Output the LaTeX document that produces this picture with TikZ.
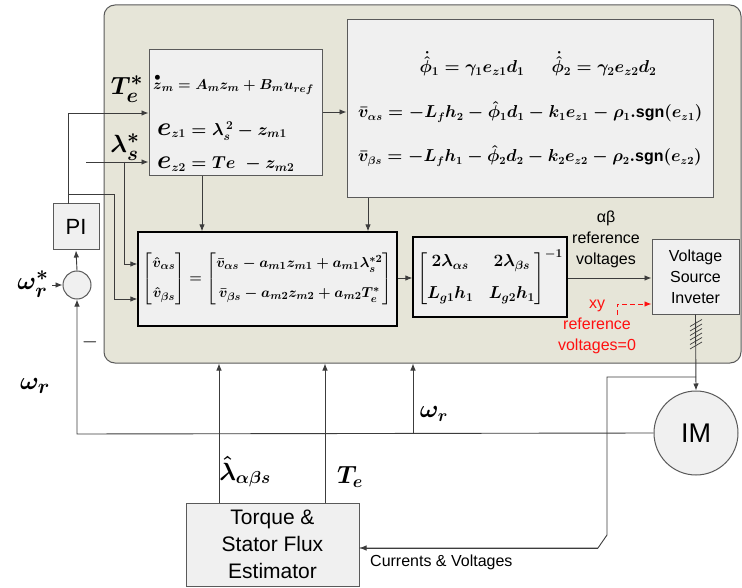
\documentclass[tikz,border=0pt]{standalone}
\usepackage{amsmath}
\usepackage{fontspec}
\setmainfont{Liberation Sans}
\usetikzlibrary{arrows.meta,calc}
\definecolor{panel}{HTML}{E6E5D8}
\definecolor{boxfill}{HTML}{F0F0F0}
\definecolor{linec}{HTML}{3C3C3C}
\definecolor{bord}{HTML}{5A5A5A}
\definecolor{redc}{HTML}{FF1010}
\tikzset{
  arr/.style={draw=linec, line width=0.9pt, -{Latex[length=7pt,width=5.5pt]}},
  wire/.style={draw=linec, line width=0.9pt},
  gbox/.style={draw=bord, line width=1pt, fill=boxfill, inner sep=0pt},
  kbox/.style={draw=black, line width=1.3pt, fill=boxfill, inner sep=0pt},
  eqs/.style={inner sep=0pt, font=\fontsize{15}{18}\selectfont\boldmath},
  biglab/.style={inner sep=0pt, font=\fontsize{28}{30}\selectfont\boldmath},
  sans/.style={inner sep=0pt, align=center, font=\fontsize{16}{21}\selectfont},
}
\begin{document}
\begin{tikzpicture}[x=1pt,y=-1pt]
\useasboundingbox (0,0) rectangle (742,588);
\fill[white] (0,0) rectangle (742,588);

% panel
\node[draw=bord, line width=1pt, fill=panel, rounded corners=11pt,
      minimum width=637pt, minimum height=358pt, inner sep=0pt] (ctrl) at (422.5,184) {};

% boxes
\node[gbox, minimum width=173pt, minimum height=126pt] (box1) at (235.5,113) {};
\node[gbox, minimum width=366pt, minimum height=178pt] (box2) at (530,109) {};
\node[kbox, minimum width=259pt, minimum height=94pt] (box3) at (267.5,279) {};
\node[kbox, minimum width=154pt, minimum height=80pt] (box4) at (490,277) {};
\node[gbox, minimum width=87pt, minimum height=74pt, sans] (vsi) at (695.5,277) {Voltage\\Source\\Inveter};
\node[gbox, minimum width=46pt, minimum height=46pt, font=\fontsize{22}{22}\selectfont] (pi) at (76,227) {PI};
\node[circle, draw=bord, line width=1pt, fill=boxfill, minimum size=28pt, inner sep=0pt] (sum) at (77,285) {};
\node[circle, draw=bord, line width=1pt, fill=boxfill, minimum size=84pt, inner sep=0pt, font=\fontsize{27}{27}\selectfont] (im) at (696,433) {IM};
\node[gbox, minimum width=173pt, minimum height=83pt, align=center, font=\fontsize{21}{27}\selectfont] (est) at (272.5,544.5) {Torque \&\\Stator Flux\\Estimator};

% equations box1
\node[eqs, anchor=west, font=\fontsize{15}{18}\selectfont\boldmath] (eq1) at (153,84) {$\overset{\bullet}{z}_{m} = A_{m} z_{m} + B_{m} u_{ref}$};
\node[eqs, anchor=west, font=\fontsize{17}{18}\selectfont\boldmath] (eq2) at (157,131) {$\scalebox{1.5}{$e$}_{z1} = \lambda_s^{\,2} - z_{m1}$};
\node[eqs, anchor=west, font=\fontsize{17}{18}\selectfont\boldmath] (eq3) at (157,164) {$\scalebox{1.5}{$e$}_{z2} = Te\; - z_{m2}$};

% equations box2
\node[eqs, font=\fontsize{18}{20}\selectfont\boldmath] (eq4) at (472,64) {$\dot{\hat{\phi}}_1 = \gamma_1 e_{z1} d_1$};
\node[eqs, font=\fontsize{18}{20}\selectfont\boldmath] (eq5) at (604,64) {$\dot{\hat{\phi}}_2 = \gamma_2 e_{z2} d_2$};
\node[eqs, anchor=west, font=\fontsize{16}{20}\selectfont\boldmath] (eq6) at (358,112) {$\bar{v}_{\alpha s} = -L_f h_2 - \hat{\phi}_1 d_1 - k_1 e_{z1} - \rho_1 . \mathrm{sgn}(e_{z1})$};
\node[eqs, anchor=west, font=\fontsize{16}{20}\selectfont\boldmath] (eq7) at (358,156) {$\bar{v}_{\beta s} = -L_f h_1 - \hat{\phi}_2 d_2 - k_2 e_{z2} - \rho_2 . \mathrm{sgn}(e_{z2})$};

% matrices
\node[eqs, font=\fontsize{15.5}{18}\selectfont\boldmath] (eq8) at (box3) {$\begin{bmatrix}\hat{v}_{\alpha s}\\[12pt] \hat{v}_{\beta s}\end{bmatrix} = \begin{bmatrix}\bar{v}_{\alpha s} - a_{m1} z_{m1} + a_{m1}\lambda_s^{*2}\\[12pt] \bar{v}_{\beta s} - a_{m2} z_{m2} + a_{m2} T_e^{*}\end{bmatrix}$};
\node[eqs, font=\fontsize{17}{20}\selectfont\boldmath] (eq9) at (box4) {$\begin{bmatrix}2\lambda_{\alpha s} & \;2\lambda_{\beta s}\\[12pt] L_{g1}h_1 & \;L_{g2}h_1\end{bmatrix}^{-1}$};

% labels
\node[biglab] (lte) at (127,89) {$T_e^{*}$};
\node[biglab] (lls) at (125,147) {$\lambda_s^{*}$};
\node[biglab] (lwrs) at (33,284) {$\omega_r^{*}$};
\node[biglab] (lwr) at (35,386) {$\omega_r$};
\node[biglab, font=\fontsize{25}{26}\selectfont\boldmath] (lwr2) at (434,414) {$\omega_r$};
\node[biglab, font=\fontsize{25}{26}\selectfont\boldmath] (llab) at (245,472) {$\hat{\lambda}_{\alpha\beta s}$};
\node[biglab, font=\fontsize{25}{26}\selectfont\boldmath] (lte2) at (350,477) {$T_e$};
\node[inner sep=0pt, font=\fontsize{22}{22}\selectfont] (minus) at (90,342) {$-$};
\node[sans] (ab) at (606,239) {αβ\\reference\\voltages};
\node[sans, text=redc] (xy) at (597,327) {xy\\reference\\voltages=0};
\node[sans, anchor=west] (cv) at (370,562) {Currents \& Voltages};

% coordinates
\coordinate (pio) at (68,204);
\coordinate (br1) at (68,194);
\coordinate (lin) at (86,162);
\coordinate (br2) at (124,162);
\coordinate (win) at (52,285);
\coordinate (fb) at (77,434);
\coordinate (fb2) at (413,434);
\coordinate (vo) at (696,377);
\coordinate (cvk) at (607,535);

% connectors
\draw[arr] (pio) |- (box1.west);
\draw[arr] (br1) -| (114,299) -- (box3.west |- 0,299);
\draw[arr] (lin) -- (box1.west |- lin);
\draw[arr] (br2) |- (box3.west |- 0,264);
\draw[arr] (win) -- (sum.west);
\draw[arr] (sum.north) -- (pi.south);
\draw[arr] (im.west) -- (fb) -- (sum.south);
\draw[arr] (fb2) -- (ctrl.south -| fb2);
\draw[arr] (est.north -| 219,0) -- (ctrl.south -| 219,0);
\draw[arr] (est.north -| 325,0) -- (ctrl.south -| 325,0);
\draw[arr] (box1.east |- 0,112) -- (box2.west |- 0,112);
\draw[arr] (box1.south -| 202,0) -- (box3.north -| 202,0);
\draw[arr] (box2.south -| 368,0) -- (box3.north -| 368,0);
\draw[arr] (box3.east |- 0,278) -- (box4.west |- 0,278);
\draw[arr] (box4.east |- 0,278) -- (vsi.west |- 0,278);
\draw[arr, draw=redc, dashed, dash pattern=on 5pt off 3pt] (617,315) -- (617,304) -- (vsi.west |- 0,304);
\draw[arr] (vsi.south) -- (im.north);
\draw[wire] (vo) -| (cvk) -- (598,548) -- (est.east |- 0,548);
\draw[arr] (598,548) -- (est.east |- 0,548);
\foreach \k in {0,...,5} \draw[linec, line width=0.7pt] (690,349-4.5*\k) -- (702,342-4.5*\k);
\end{tikzpicture}
\end{document}
